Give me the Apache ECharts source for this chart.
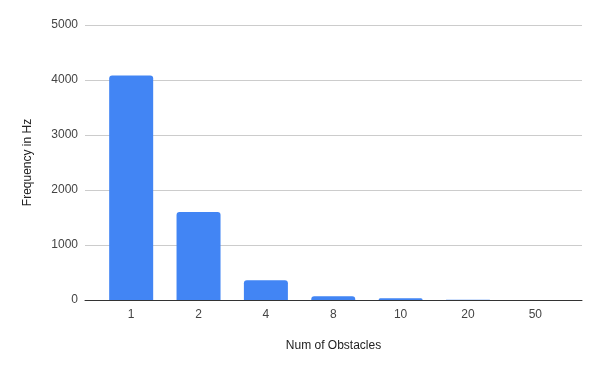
<!DOCTYPE html>
<html><head><meta charset="utf-8">
<script src="https://cdn.jsdelivr.net/npm/echarts@6/dist/echarts.min.js"></script>
<style>html,body{margin:0;padding:0;background:#fff}#c{width:600px;height:371px}</style>
</head><body><div id="c"></div>
<script>
const categories = ['1', '2', '4', '8', '10', '20', '50'];
const frequency = [4080, 1600, 360, 70, 30, 4, 2];
const yTicks = [0, 1000, 2000, 3000, 4000, 5000];

const chart = echarts.init(document.getElementById('c'), null, {renderer: 'canvas'});
const font = 'Liberation Sans, Arial, sans-serif';
chart.setOption({
  animation: false,
  grid: [
    {left: 85, right: 18, top: 25, bottom: 71},
    {left: 97.5, right: 31, top: 25, bottom: 71}
  ],
  xAxis: [
    {type: 'value', gridIndex: 0, min: 0, max: 1, show: true,
     axisLine: {show: true, onZero: false, lineStyle: {color: '#333', width: 1}},
     axisTick: {show: false}, axisLabel: {show: false}, splitLine: {show: false},
     name: 'Num of Obstacles', nameLocation: 'middle', nameGap: 40,
     nameTextStyle: {fontFamily: font, fontSize: 12, color: '#222'}},
    {type: 'category', gridIndex: 1, data: categories,
     axisLine: {show: false}, axisTick: {show: false},
     axisLabel: {fontFamily: font, fontSize: 12, color: '#444', margin: 9}}
  ],
  yAxis: [
    {type: 'value', gridIndex: 0, min: yTicks[0], max: yTicks[yTicks.length - 1], interval: 1000,
     axisLine: {show: false}, axisTick: {show: false},
     axisLabel: {fontFamily: font, fontSize: 12, color: '#444', margin: 7, formatter: v => String(v)},
     splitLine: {lineStyle: {color: '#cccccc', width: 1}},
     name: 'Frequency in Hz', nameLocation: 'middle', nameGap: 51, nameRotate: 90,
     nameTextStyle: {fontFamily: font, fontSize: 12, color: '#222'}},
    {type: 'value', gridIndex: 1, min: 0, max: 5000, show: false, splitLine: {show: false}}
  ],
  series: [{
    type: 'bar', xAxisIndex: 1, yAxisIndex: 1, data: frequency,
    barWidth: 44, itemStyle: {color: '#4285f4', borderRadius: [3, 3, 0, 0]}
  }]
});
</script></body></html>
